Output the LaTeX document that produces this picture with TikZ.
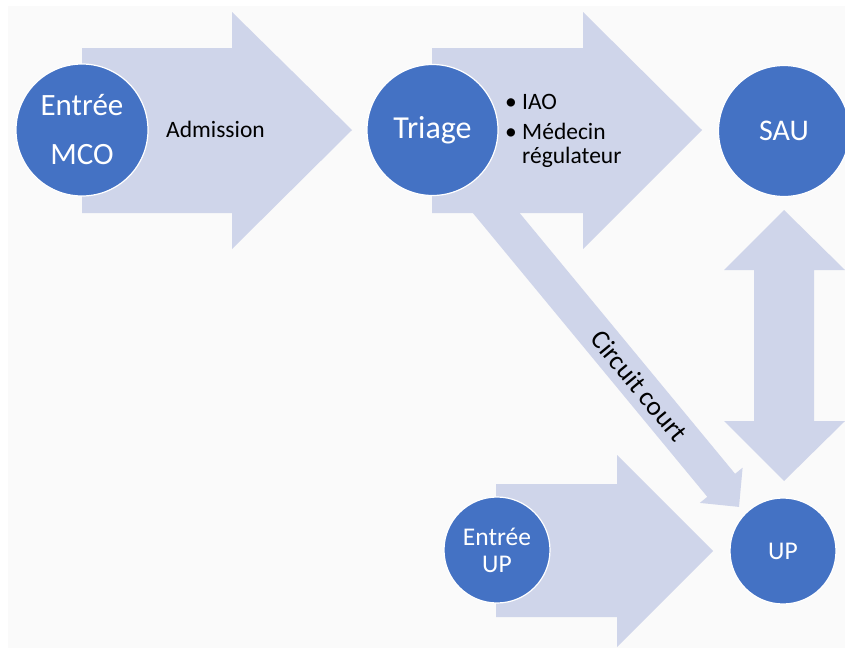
\documentclass[tikz,border=0pt]{standalone}
\usepackage{fontspec}
\setmainfont{Carlito}
\definecolor{cblue}{HTML}{4472C4}
\definecolor{carrow}{HTML}{CFD5EA}
\definecolor{bgc}{HTML}{FAFAFA}
\begin{document}
\begin{tikzpicture}[x=1pt,y=-1pt,
  circ/.style={circle, fill=cblue, draw=white, line width=1.2pt, inner sep=0pt, text=white, align=center},
  blockarrow/.style={fill=carrow, draw=none},
  lbl/.style={text=black, inner sep=0pt, anchor=base west, font=\fontsize{23.5}{27}\selectfont}]
\useasboundingbox (0,0) rectangle (845,648);
\fill[white] (0,0) rectangle (845,648);
\fill[bgc] (8,6) rectangle (845,648);
% block arrows
\fill[blockarrow] (82,48) -- (232,48) -- (232,12) -- (352,130) -- (232,249) -- (232,213) -- (82,213) -- cycle;
\fill[blockarrow] (432,48) -- (583,48) -- (583,12) -- (702,130) -- (583,249) -- (583,213) -- (432,213) -- cycle;
\fill[blockarrow] (496,484) -- (617,484) -- (617,455) -- (713,551) -- (617,647) -- (617,617) -- (496,617) -- cycle;
\fill[blockarrow] (784,210) -- (845,270) -- (814,270) -- (814,421) -- (845,421) -- (784,481) -- (724,421) -- (754,421) -- (754,270) -- (724,270) -- cycle;
\fill[blockarrow] (471.6,211.5) -- (499.4,188.5) -- (735.1,473.8) -- (742.6,467.7) -- (739.0,506.9) -- (699.8,502.9) -- (707.3,496.8) -- cycle;
% circles
\node[circ, minimum size=132, font=\fontsize{31}{49}\selectfont] (mco) at (82,130) {Entrée\\MCO};
\node[circ, minimum size=131, font=\fontsize{32}{36}\selectfont] (tri) at (432.5,130) {Triage};
\node[circ, minimum size=131, font=\fontsize{30}{34}\selectfont] (sau) at (784,131) {SAU};
\node[circ, minimum size=106, font=\fontsize{25.5}{27}\selectfont] (eup) at (497,550) {Entrée\\UP};
\node[circ, minimum size=106, font=\fontsize{25.5}{30}\selectfont] (up) at (783,551) {UP};
% labels
\node[lbl] (adm) at (166,137) {Admission};
\node[lbl] (b1) at (505,109) {•};
\node[lbl] (iao) at (522,109) {IAO};
\node[lbl] (b2) at (505,139) {•};
\node[lbl] (med) at (522,139) {Médecin};
\node[lbl] (reg) at (522,163) {régulateur};
\node[rotate=-50.4, inner sep=0pt, font=\fontsize{27}{30}\selectfont] (cc) at (639,386) {Circuit court};
\end{tikzpicture}
\end{document}
